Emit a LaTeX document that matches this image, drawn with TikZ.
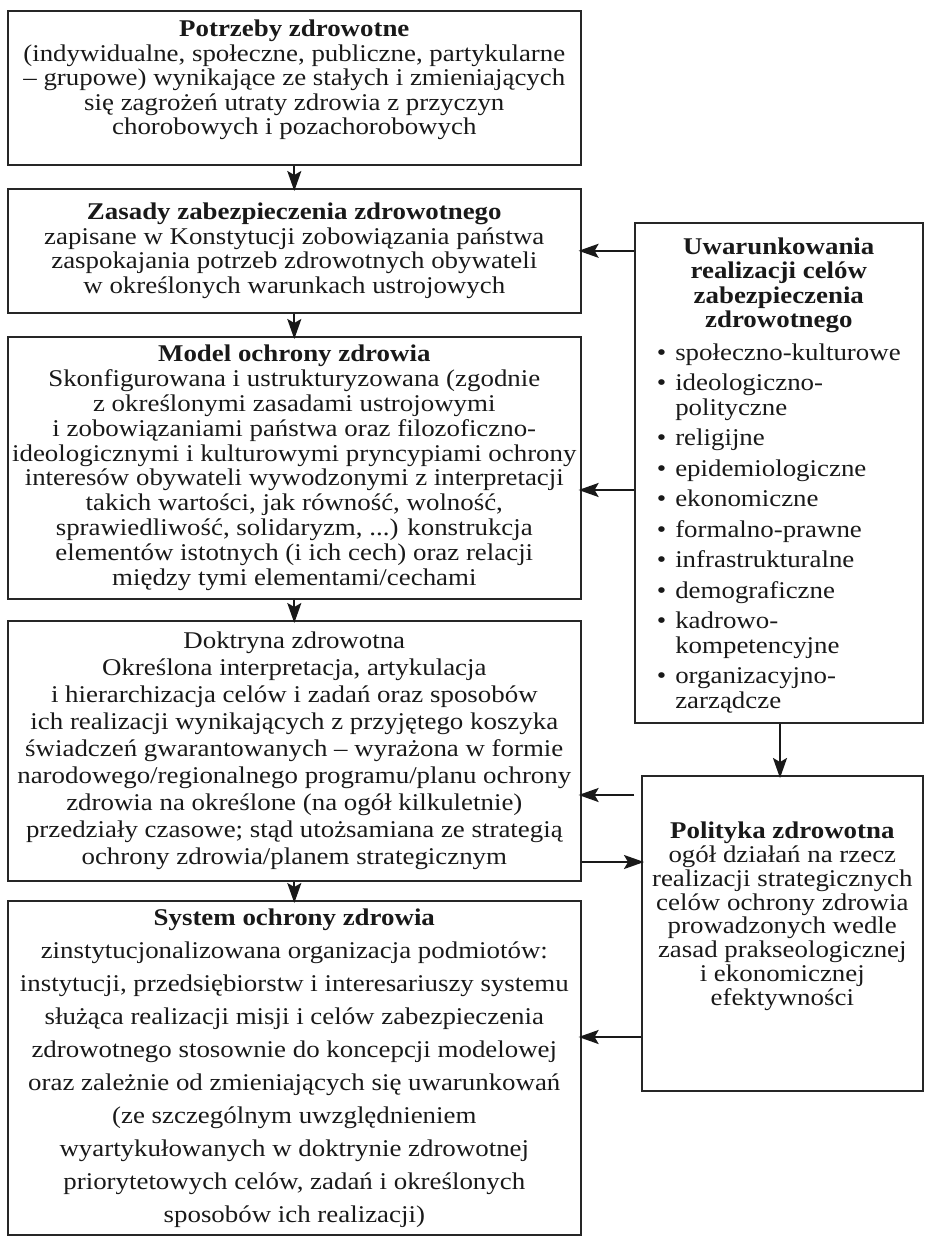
\documentclass[tikz,border=0pt]{standalone}
\usepackage{fontspec}
\setmainfont{Liberation Serif}[FakeStretch=1.12]
\usetikzlibrary{arrows.meta}
% body text size with a given line spacing
\newcommand\diagfont[1]{\fontsize{24}{#1}\selectfont}
\begin{document}
\begin{tikzpicture}[x=1pt,y=-1pt,
  box/.style={draw=black!85, line width=1.6pt, inner sep=0pt, anchor=north west},
  txt/.style={inner sep=0pt, align=center, text=black!90, font=\diagfont{24.5}},
  arr/.style={draw=black!90, fill=black!90, line width=2pt, shorten >=-3pt,
    -{Stealth[length=20pt,width=14pt,inset=4pt]}},
]
\useasboundingbox (0,0) rectangle (925,1237);

% frames
\node[box, minimum width=573, minimum height=154] (needs)    at (7,10)   {};
\node[box, minimum width=573, minimum height=124] (rules)    at (7,188)  {};
\node[box, minimum width=573, minimum height=262] (model)    at (7,336)  {};
\node[box, minimum width=573, minimum height=260] (doctrine) at (7,620)  {};
\node[box, minimum width=573, minimum height=334] (system)   at (7,900)  {};
\node[box, minimum width=288, minimum height=500] (cond)     at (634,222){};
\node[box, minimum width=281, minimum height=315] (policy)   at (641,775){};

% texts inside the frames
\node[txt] (needs-t) at ([yshift=8pt]needs.center)
  {\textbf{Potrzeby zdrowotne}\\
   (indywidualne, społeczne, publiczne, partykularne\\
   – grupowe) wynikające ze stałych i zmieniających\\
   się zagrożeń utraty zdrowia z przyczyn\\
   chorobowych i pozachorobowych};

\node[txt] (rules-t) at (rules.center)
  {\textbf{Zasady zabezpieczenia zdrowotnego}\\
   zapisane w Konstytucji zobowiązania państwa\\
   zaspokajania potrzeb zdrowotnych obywateli\\
   w określonych warunkach ustrojowych};

\node[txt, font=\diagfont{24.8}] (model-t) at (model.center)
  {\textbf{Model ochrony zdrowia}\\
   Skonfigurowana i ustrukturyzowana (zgodnie\\
   z określonymi zasadami ustrojowymi\\
   i zobowiązaniami państwa oraz filozoficzno-\\
   ideologicznymi i kulturowymi pryncypiami ochrony\\
   interesów obywateli wywodzonymi z interpretacji\\
   takich wartości, jak równość, wolność,\\
   sprawiedliwość, solidaryzm, ...) konstrukcja\\
   elementów istotnych (i ich cech) oraz relacji\\
   między tymi elementami/cechami};

\node[txt, font=\diagfont{27}] (doctrine-t) at (doctrine.center)
  {Doktryna zdrowotna\\
   Określona interpretacja, artykulacja\\
   i hierarchizacja celów i zadań oraz sposobów\\
   ich realizacji wynikających z przyjętego koszyka\\
   świadczeń gwarantowanych – wyrażona w formie\\
   narodowego/regionalnego programu/planu ochrony\\
   zdrowia na określone (na ogół kilkuletnie)\\
   przedziały czasowe; stąd utożsamiana ze strategią\\
   ochrony zdrowia/planem strategicznym};

\node[txt, font=\diagfont{33}] (system-t) at (system.center)
  {\textbf{System ochrony zdrowia}\\
   zinstytucjonalizowana organizacja podmiotów:\\
   instytucji, przedsiębiorstw i interesariuszy systemu\\
   służąca realizacji misji i celów zabezpieczenia\\
   zdrowotnego stosownie do koncepcji modelowej\\
   oraz zależnie od zmieniających się uwarunkowań\\
   (ze szczególnym uwzględnieniem\\
   wyartykułowanych w doktrynie zdrowotnej\\
   priorytetowych celów, zadań i określonych\\
   sposobów ich realizacji)};

\node[txt] (cond-t) at ([yshift=-4pt]cond.center)
  {\textbf{Uwarunkowania}\\
   \textbf{realizacji celów}\\
   \textbf{zabezpieczenia}\\
   \textbf{zdrowotnego}\\[9pt]
   \begin{tabular}{@{}c@{\hspace{9pt}}l@{}}
   • & społeczno-kulturowe\\[6pt]
   • & ideologiczno-\\
     & polityczne\\[6pt]
   • & religijne\\[6pt]
   • & epidemiologiczne\\[6pt]
   • & ekonomiczne\\[6pt]
   • & formalno-prawne\\[6pt]
   • & infrastrukturalne\\[6pt]
   • & demograficzne\\[6pt]
   • & kadrowo-\\
     & kompetencyjne\\[6pt]
   • & organizacyjno-\\
     & zarządcze
   \end{tabular}};

\node[txt, font=\diagfont{23.8}] (policy-t) at ([yshift=17pt]policy.center)
  {\textbf{Polityka zdrowotna}\\
   ogół działań na rzecz\\
   realizacji strategicznych\\
   celów ochrony zdrowia\\
   prowadzonych wedle\\
   zasad prakseologicznej\\
   i ekonomicznej\\
   efektywności};

% heights of the horizontal connectors
\coordinate (hB) at (0,490);
\coordinate (hC) at (0,795);
\coordinate (hD) at (0,862);
\coordinate (hE) at (0,1037);
\coordinate (vx) at (780,0);

\draw[arr] (needs.south) -- (rules.north);
\draw[arr] (rules.south) -- (model.north);
\draw[arr] (model.south) -- (doctrine.north);
\draw[arr] (doctrine.south) -- (system.north);

\draw[arr] (cond.west |- rules.east) -- (rules.east);
\draw[arr] (cond.west |- hB) -- (model.east |- hB);
\draw[arr] (cond.west |- hC) -- (doctrine.east |- hC);
\draw[arr] (cond.south -| vx) -- (policy.north -| vx);
\draw[arr] (doctrine.east |- hD) -- (policy.west |- hD);
\draw[arr] (policy.west |- hE) -- (system.east |- hE);
\end{tikzpicture}
\end{document}
